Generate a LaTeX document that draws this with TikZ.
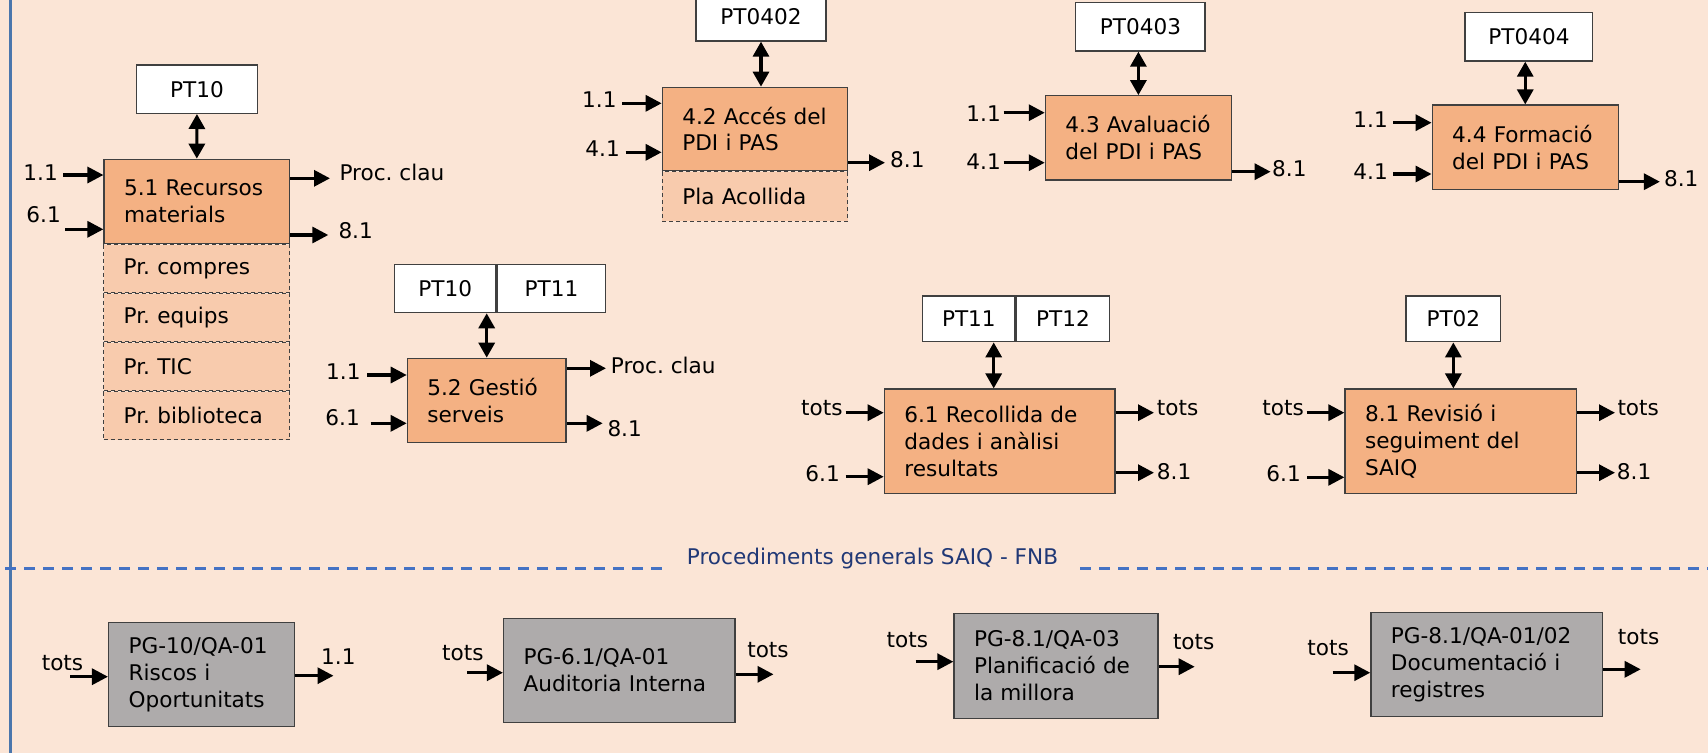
\documentclass[tikz,border=0pt]{standalone}
\usepackage{fontspec}
\setmainfont{DejaVu Sans}
\usetikzlibrary{arrows.meta,positioning,calc}
\definecolor{peach}{RGB}{251,229,214}
\definecolor{procorange}{RGB}{244,177,131}
\definecolor{subpeach}{RGB}{248,203,173}
\definecolor{pggrey}{RGB}{174,171,171}
\definecolor{boxline}{RGB}{64,64,64}
\definecolor{sepblue}{RGB}{68,114,196}
\definecolor{frameblue}{RGB}{74,118,172}
\definecolor{titlenavy}{RGB}{32,56,118}
\frenchspacing

\begin{document}
\begin{tikzpicture}[x=1pt,y=-1pt,font=\fontsize{21.6pt}{26.8pt}\selectfont]
\tikzset{PROCESS/.style={draw=boxline,line width=1.3pt,fill=procorange,align=left,inner xsep=20pt,inner ysep=0pt}}
\tikzset{SUBPROCESS/.style={draw=boxline,line width=1.1pt,dash pattern=on 4pt off 3pt,fill=subpeach,align=left,inner xsep=20pt,inner ysep=0pt,minimum height=48pt}}
\tikzset{GENERAL/.style={PROCESS,fill=pggrey,font=\fontsize{21.6pt}{27.2pt}\selectfont}}
\tikzset{DOC/.style={draw=boxline,line width=1.3pt,fill=white,text centered,minimum height=48.3pt,inner sep=0pt}}

\tikzset{FLOW/.style={draw,line width=3.2pt,-{Triangle[length=16pt,width=16pt]}}}
\tikzset{DUAL/.style={draw,line width=3.2pt,{Triangle[length=15pt,width=16pt]}-{Triangle[length=15pt,width=16pt]}}}
\tikzset{SEPARATOR/.style={draw=sepblue,line width=3.3pt,dash pattern=on 11pt off 8pt}}

\tikzset{INLABEL/.style={inner sep=0pt,anchor=east}}
\tikzset{OUTLABEL/.style={inner sep=0pt,anchor=west}}

\useasboundingbox (0,0) rectangle (1708,753);
\fill[peach] (0,0) rectangle (1708,753);
\draw[frameblue,line width=3pt] (10.5,0) -- (10.5,753);

% processos clau
\node[PROCESS,text width=145.3pt,minimum height=84pt] (recursos) at (196.7,201.3) {5.1 Recursos\\materials};
\node[SUBPROCESS,text width=146pt,below=0pt of recursos] (compres) {Pr. compres};
\node[SUBPROCESS,text width=146pt,below=0pt of compres] (equips) {Pr. equips};
\node[SUBPROCESS,text width=146pt,below=0pt of equips] (tic) {Pr. TIC};
\node[SUBPROCESS,text width=146pt,below=0pt of tic] (biblioteca) {Pr. biblioteca};

\node[PROCESS,text width=145.4pt,minimum height=83.4pt] (acces) at (755,129) {4.2 Accés del\\PDI i PAS};
\node[SUBPROCESS,text width=145.4pt,minimum height=49.3pt,below=0pt of acces] (acollida) {Pla Acollida};

\node[PROCESS,text width=146pt,minimum height=84.3pt] (avaluacio) at (1138.4,137.9) {4.3 Avaluació\\del PDI i PAS};
\node[PROCESS,text width=146.1pt,minimum height=84.3pt] (formacio) at (1525.25,147.2) {4.4 Formació\\del PDI i PAS};
\node[PROCESS,text width=118.7pt,minimum height=84pt] (gestio) at (486.7,400.3) {5.2 Gestió\\serveis};
\node[PROCESS,text width=190.7pt,minimum height=104.3pt] (recollida) at (999.7,441.2) {6.1 Recollida de\\dades i anàlisi\\resultats};
\node[PROCESS,text width=191.7pt,minimum height=104.3pt] (revisio) at (1460.9,441.2) {8.1 Revisió i\\seguiment del\\SAIQ};

% documents
\node[DOC,minimum width=120.6pt] (pt10) at (197,89.2) {PT10};
\node[DOC,minimum width=129.9pt] (pt0402) at (761,16.85) {PT0402};
\node[DOC,minimum width=129.3pt] (pt0403) at (1140.4,26.9) {PT0403};
\node[DOC,minimum width=127.8pt] (pt0404) at (1528.9,36.9) {PT0404};
\node[DOC,minimum width=101.7pt] (gestio pt10) at (445.2,288.5) {PT10};
\node[DOC,minimum width=108.3pt,right=0pt of gestio pt10] (gestio pt11) {PT11};
\node[DOC,minimum width=92.3pt,minimum height=45.7pt] (pt11) at (968.85,318.9) {PT11};
\node[DOC,minimum width=93.3pt,minimum height=45.7pt,right=0pt of pt11] (pt12) {PT12};
\node[DOC,minimum width=94.7pt,minimum height=45.7pt] (pt02) at (1453.35,318.9) {PT02};

\path[DUAL] (pt10) -- (recursos);
\path[DUAL] (pt0402.south) -- (pt0402.south |- acces.north);
\path[DUAL] (avaluacio.north) -- (avaluacio.north |- pt0403.south);
\path[DUAL] (formacio.north) -- (formacio.north |- pt0404.south);
\path[DUAL] (gestio.north) -- (gestio.north |- gestio pt10.south);
\path[DUAL] ([xshift=-6pt]recollida.north) -- ([xshift=-6pt]recollida.north |- pt11.south);
\path[DUAL] (pt02.south) -- (pt02.south |- revisio.north);

% procediments generals
\node[text=titlenavy,inner xsep=22pt] (generals) at (872.5,559) {Procediments generals SAIQ - FNB};
\coordinate (sep west) at (5,568.3);
\coordinate (sep east) at (1708,568.3);
\path[SEPARATOR] (sep west) -- (sep west -| generals.west);
\path[SEPARATOR] (generals.east |- sep east) -- (sep east);

\node[GENERAL,text width=146pt,minimum height=104pt] (riscos) at (201.6,674.7) {PG-10/QA-01\\Riscos i\\Oportunitats};
\node[GENERAL,text width=191.4pt,minimum height=104pt] (auditoria) at (619.3,670.3) {PG-6.1/QA-01\\Auditoria Interna};
\node[GENERAL,text width=164pt,minimum height=105pt] (planificacio) at (1056,665.8) {PG-8.1/QA-03\\Planificació de\\la millora};
\node[GENERAL,text width=191.5pt,minimum height=104pt] (documentacio) at (1486.65,664.7) {PG-8.1/QA-01/02\\Documentació i\\registres};

% entrades
\foreach \proc/\ax/\ay/\lx/\ly/\txt [count=\i] in {
  recursos/63/175/58/172.5/1.1, recursos/65/229.3/61/215/6.1,
  acces/622.3/103.3/616.7/99.3/1.1, acces/625.7/152.3/620/148.3/4.1,
  avaluacio/1003.7/112.7/1001/113.3/1.1, avaluacio/1003.7/162.7/1001/161.7/4.1,
  formacio/1393/122.7/1388/119.3/1.1, formacio/1393/174/1388/171.7/4.1,
  gestio/367.3/375/360.7/371.7/1.1, gestio/370.7/423.3/360/418/6.1,
  recollida/845.7/412.7/842.7/408.3/tots, recollida/845.7/476.7/840/473.3/6.1,
  revisio/1306.7/412.7/1304/407.7/tots, revisio/1307.3/477.3/1301/473.3/6.1,
  riscos/70.2/676.7/83.4/663.3/tots, auditoria/467.4/672.7/483.8/652.7/tots,
  planificacio/915.7/661.7/928.3/640/tots, documentacio/1332.6/672.7/1349/648.3/tots}
{
  \node[INLABEL] (in label \i) at (\lx,\ly) {\txt};
  \coordinate (in \i) at (\ax,\ay);
  \path[FLOW] (in \i) -- (in \i -| \proc.west);
}

% sortides
\foreach \proc/\ax/\ay/\lx/\ly/\txt [count=\i] in {
  recursos/330/178.3/339.3/172.7/Proc. clau, recursos/328.3/235/338.3/231/8.1,
  acces/885/162.7/890/159.3/8.1, avaluacio/1270.6/171.7/1272/168.3/8.1,
  formacio/1659.9/181.7/1663.8/178.3/8.1,
  gestio/606/368.3/610.7/365/Proc. clau, gestio/602.7/423.3/607.3/428.3/8.1,
  recollida/1154/412.7/1156.7/408.3/tots, recollida/1154/472.7/1156.7/471.7/8.1,
  revisio/1615/412.7/1617.3/408.3/tots, revisio/1615/472.7/1616.7/471.7/8.1,
  riscos/333.5/675.7/321/656.7/1.1, auditoria/773.5/674.3/747.1/650/tots,
  planificacio/1194.7/666.7/1172.8/641.7/tots, documentacio/1640.7/669.3/1617.7/637.3/tots}
{
  \node[OUTLABEL] (out label \i) at (\lx,\ly) {\txt};
  \coordinate (out \i) at (\ax,\ay);
  \path[FLOW] (out \i -| \proc.east) -- (out \i);
}

\end{tikzpicture}
\end{document}
